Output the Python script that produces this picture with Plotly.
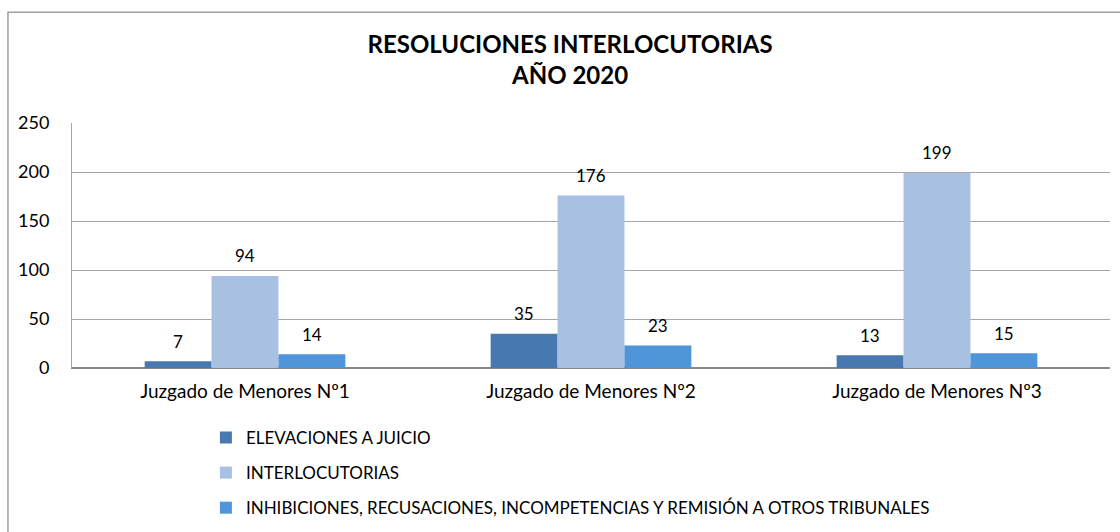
import plotly.graph_objects as go

categories = ["Juzgado de Menores Nº1", "Juzgado de Menores Nº2", "Juzgado de Menores Nº3"]
series_names = [
    "ELEVACIONES A JUICIO",
    "INTERLOCUTORIAS",
    "INHIBICIONES, RECUSACIONES, INCOMPETENCIAS Y REMISIÓN A OTROS TRIBUNALES",
]
elevaciones = [7, 35, 13]
interlocutorias = [94, 176, 199]
inhibiciones = [14, 23, 15]
y_ticks = [0, 50, 100, 150, 200, 250]

colors = ["#4878B0", "#A8C0E2", "#4F95DA"]
FONT = "Lato"

W, H = 1120, 532
ML, MR, MT, MB = 72, 10, 123, 164
BARGAP = 0.42
plot_w = W - ML - MR
bar_px = plot_w / len(categories) * (1 - BARGAP) / 3

fig = go.Figure()
annotations = []
all_series = [elevaciones, interlocutorias, inhibiciones]
for i, (name, vals) in enumerate(zip(series_names, all_series)):
    fig.add_trace(go.Bar(
        x=categories, y=vals, name=name,
        marker=dict(color=colors[i], line=dict(width=0)),
        legendgroup=f"g{i}",
    ))
    for c, v in zip(categories, vals):
        annotations.append(dict(
            x=c, y=v, xref="x", yref="y", text=str(v), showarrow=False,
            xshift=(i - 1) * bar_px, yshift=20, yanchor="middle",
            font=dict(size=17, family=FONT, color="#000000"),
        ))

fig.update_layout(
    width=W, height=H,
    paper_bgcolor="white", plot_bgcolor="white",
    barmode="group", bargap=BARGAP, bargroupgap=0,
    margin=dict(l=ML, r=MR, t=MT, b=MB, autoexpand=False),
    font=dict(family=FONT, size=17, color="#000000"),
    title=dict(
        text="<b>RESOLUCIONES INTERLOCUTORIAS<br>AÑO 2020</b>",
        x=0.509, xanchor="center", y=0.90, yanchor="top",
        font=dict(size=24, family=FONT, color="#000000"),
    ),
    xaxis=dict(showgrid=False, showline=True, linecolor="#888888", linewidth=1,
               ticks="", tickfont=dict(size=19), ticklabelstandoff=6, automargin=False),
    yaxis=dict(range=[0, 250], tickvals=y_ticks, showgrid=True, gridcolor="#A6A6A6",
               gridwidth=1, showline=True, linecolor="#A6A6A6", zeroline=True,
               zerolinecolor="#888888", ticks="", tickfont=dict(size=18),
               ticklabelstandoff=18, automargin=False),
    legend=dict(orientation="v", x=0.129, xanchor="left", y=-0.212, yanchor="top",
                traceorder="grouped", tracegroupgap=10,
                font=dict(size=17, family=FONT), itemwidth=30),
    showlegend=True,
    annotations=annotations,
    shapes=[dict(type="rect", xref="paper", yref="paper",
                 x0=-0.0617, x1=1.02, y0=-0.75, y1=1.452,
                 line=dict(color="#A0A0A0", width=1.5), fillcolor="rgba(0,0,0,0)", layer="below")],
)

fig.write_html("out.html", config={"displayModeBar": False},
               post_script="document.body.style.margin='0px';")
